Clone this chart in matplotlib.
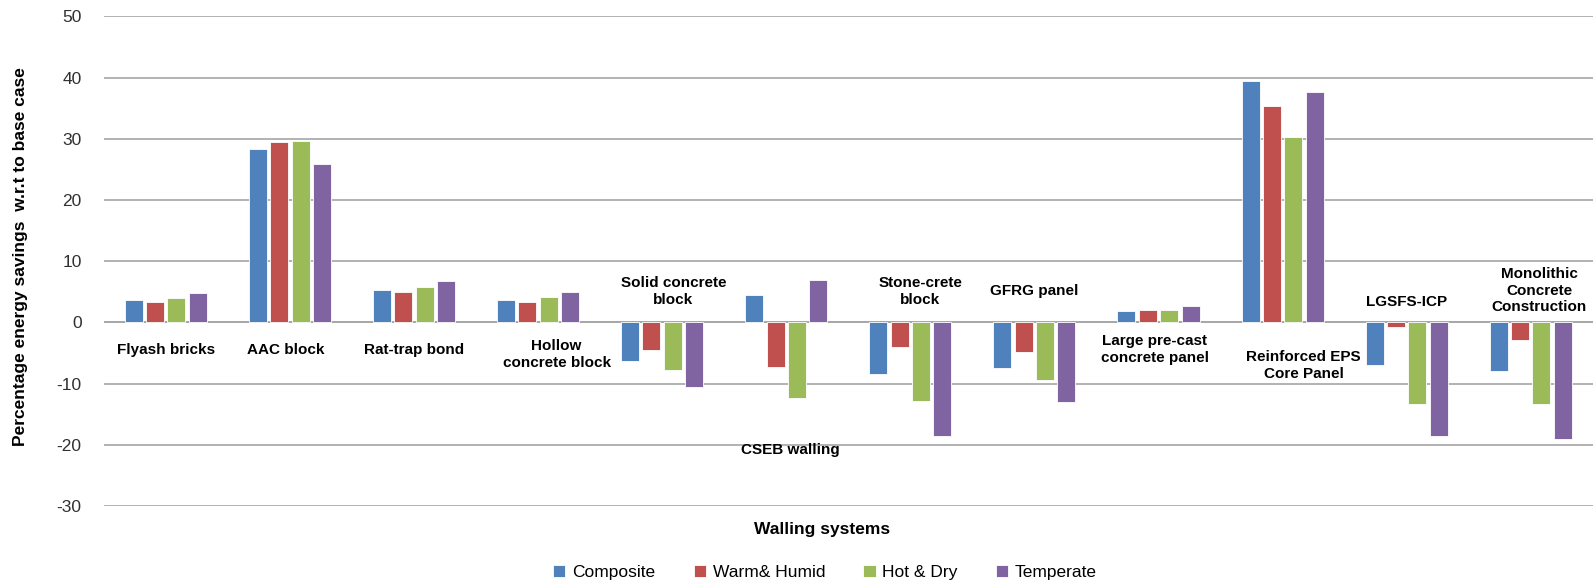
import numpy as np
import matplotlib
matplotlib.use("Agg")
import matplotlib.pyplot as plt

categories = ["Flyash bricks", "AAC block", "Rat-trap bond", "Hollow\nconcrete block",
              "Solid concrete\nblock", "CSEB walling", "Stone-crete\nblock", "GFRG panel",
              "Large pre-cast\nconcrete panel", "Reinforced EPS\nCore Panel", "LGSFS-ICP",
              "Monolithic\nConcrete\nConstruction"]
series = ["Composite", "Warm& Humid", "Hot & Dry", "Temperate"]

composite = [3.6, 28.4, 5.3, 3.6, -6.3, 4.5, -8.4, -7.4, 1.8, 39.4, -6.9, -7.9]
warm_humid = [3.3, 29.5, 5.0, 3.4, -4.5, -7.3, -4.1, -4.9, 2.1, 35.4, -0.8, -2.9]
hot_dry = [4.0, 29.6, 5.8, 4.1, -7.8, -12.3, -12.9, -9.4, 2.1, 30.3, -13.3, -13.3]
temperate = [4.8, 25.9, 6.8, 5.0, -10.5, 6.9, -18.5, -13.0, 2.7, 37.6, -18.5, -19.1]

# where the category names sit (data units), like the hand-placed Excel labels
label_y = [-4.5, -4.5, -4.5, -5.2, 5.0, -20.8, 5.0, 5.2, -4.4, -7.0, 3.3, 5.2]
label_dx = [0, -0.03, 0, 0.15, 0.09, 0.03, 0.08, 0, -0.03, 0.17, 0, 0.07]

colours = ["#4F81BD", "#C0504D", "#9BBB59", "#8064A2"]

plt.rcParams['font.family'] = ['Liberation Sans', 'DejaVu Sans']
plt.rcParams['axes.unicode_minus'] = False

fig = plt.figure(figsize=(15.96, 5.83), dpi=100)
ax = fig.add_axes([0.065, 0.132, 0.933, 0.840])

x = np.arange(len(categories))
width = 0.145
step = 0.172
for i, (vals, name) in enumerate(zip([composite, warm_humid, hot_dry, temperate], series)):
    ax.bar(x + (i - 1.5) * step, vals, width, color=colours[i], label=name,
           edgecolor="white", linewidth=0.6, zorder=3)

for xi, name, ly, dx in zip(x, categories, label_y, label_dx):
    ax.text(xi + dx, ly, name, ha="center", va="center", fontsize=11,
            fontweight="bold", linespacing=1.25, zorder=4)

ax.set_xlim(-0.5, len(categories) - 0.5)
ax.set_ylim(-30, 50)
ax.set_yticks(np.arange(-30, 51, 10))
ax.set_xticks([])
ax.yaxis.grid(True, color="#a6a6a6", linewidth=1.2, zorder=0)
ax.axhline(0, color="#a6a6a6", linewidth=1.2, zorder=1)
for s in ax.spines.values():
    s.set_visible(False)
ax.tick_params(axis="y", length=0, pad=16, labelsize=12.5, labelcolor="#303030")

fig.text(0.013, 0.56, "Percentage energy savings  w.r.t to base case", rotation=90,
         ha="center", va="center", fontsize=12.5, fontweight="bold")
fig.text(0.515, 0.091, "Walling systems", ha="center", va="center",
         fontsize=12.5, fontweight="bold")

handles, labels = ax.get_legend_handles_labels()
fig.legend(handles, labels, loc="center", bbox_to_anchor=(0.517, 0.018), ncol=4,
           frameon=False, fontsize=12.5, handlelength=0.7, handleheight=0.7,
           columnspacing=2.2, handletextpad=0.4, borderpad=0.1)

fig.savefig("out.png", dpi=100)
